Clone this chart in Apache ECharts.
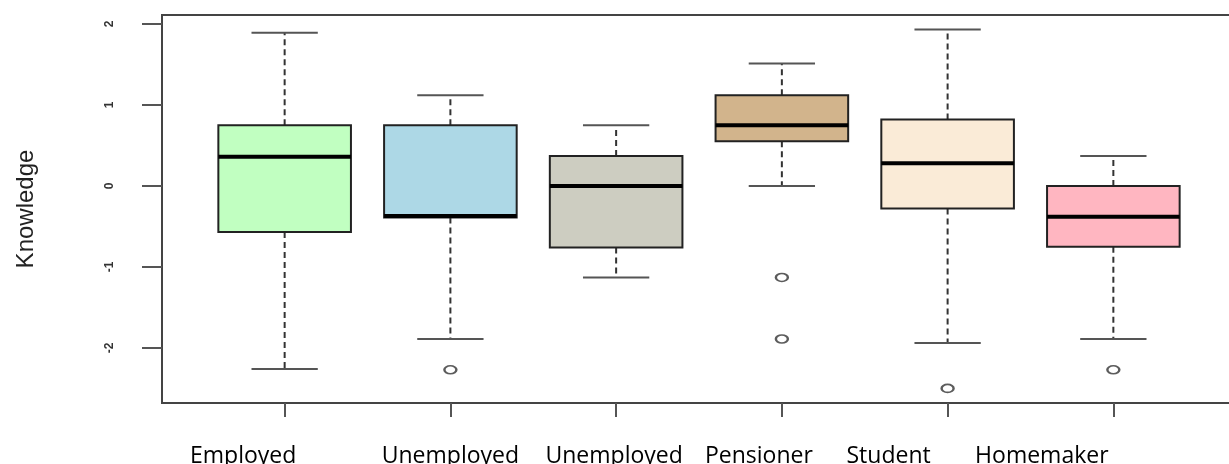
<!DOCTYPE html>
<html>
<head>
<meta charset="utf-8">
<script src="https://cdn.jsdelivr.net/npm/echarts@6/dist/echarts.min.js"></script>
<style>
  html, body { margin: 0; padding: 0; background: #fff; }
  #chart { width: 1229px; height: 464px; }
</style>
</head>
<body>
<div id="chart"></div>
<script>
// Knowledge score by employment status
const categories = ['Employed', 'Unemployed', 'Unemployed', 'Pensioner', 'Student', 'Homemaker'];
const whiskerLow  = [-2.26, -1.89, -1.13, 0.00, -1.94, -1.89];
const quartile1   = [-0.57, -0.39, -0.76, 0.55, -0.28, -0.75];
const medians     = [ 0.36, -0.37,  0.00, 0.75,  0.28, -0.38];
const quartile3   = [ 0.75,  0.75,  0.37, 1.12,  0.82,  0.00];
const whiskerHigh = [ 1.89,  1.12,  0.75, 1.51,  1.93,  0.37];
const outliers    = [[], [-2.27], [], [-1.13, -1.89], [-2.50], [-2.27]];
const yTickValues = [-2, -1, 0, 1, 2];

// styling
const boxColors = ['#C1FFC1', '#ADD8E6', '#CDCDC1', '#D2B48C', '#FAEBD7', '#FFB6C1'];
const labelShift = [-41.5, 0, -2, -23, -59, -71.5];   // horizontal offset of each category caption

const positions = categories.map((_, i) => i + 1);
const boxData = positions.map((p, i) => [p, whiskerLow[i], quartile1[i], medians[i], quartile3[i], whiskerHigh[i]]);
const outlierData = [];
outliers.forEach((list, i) => list.forEach(v => outlierData.push([positions[i], v])));

const rich = {};
labelShift.forEach((s, i) => {
  rich['c' + i] = {
    fontFamily: 'Open Sans',
    fontSize: 23,
    color: '#000',
    padding: [0, Math.max(0, -2 * s), 0, Math.max(0, 2 * s)]
  };
});

function renderBox(params, api) {
  const x = api.value(0);
  const lo = api.coord([x, api.value(1)]);
  const b1 = api.coord([x, api.value(2)]);
  const md = api.coord([x, api.value(3)]);
  const b3 = api.coord([x, api.value(4)]);
  const hi = api.coord([x, api.value(5)]);
  const boxW = api.size([0.8, 0])[0];
  const capW = boxW / 2;
  const cx = lo[0];
  const whiskerStyle = { stroke: '#333', lineWidth: 2, lineDash: [6, 4] };
  const capStyle = { stroke: '#555', lineWidth: 2 };
  return {
    type: 'group',
    children: [
      { type: 'line', shape: { x1: cx, y1: b3[1], x2: cx, y2: hi[1] }, style: whiskerStyle },
      { type: 'line', shape: { x1: cx, y1: b1[1], x2: cx, y2: lo[1] }, style: whiskerStyle },
      { type: 'line', shape: { x1: cx - capW / 2, y1: hi[1], x2: cx + capW / 2, y2: hi[1] }, style: capStyle },
      { type: 'line', shape: { x1: cx - capW / 2, y1: lo[1], x2: cx + capW / 2, y2: lo[1] }, style: capStyle },
      {
        type: 'rect',
        shape: { x: cx - boxW / 2, y: b3[1], width: boxW, height: b1[1] - b3[1] },
        style: { fill: boxColors[params.dataIndex], stroke: '#222', lineWidth: 2 }
      },
      { type: 'line', shape: { x1: cx - boxW / 2, y1: md[1], x2: cx + boxW / 2, y2: md[1] }, style: { stroke: '#000', lineWidth: 4 } }
    ]
  };
}

const chart = echarts.init(document.getElementById('chart'), null, { renderer: 'canvas' });
chart.setOption({
  animation: false,
  backgroundColor: '#fff',
  grid: {
    left: 162, top: 15, width: 1074, height: 388,
    outerBoundsMode: 'none',
    containLabel: false,
    show: true, borderColor: '#444', borderWidth: 2, backgroundColor: 'transparent'
  },
  xAxis: {
    type: 'value',
    min: 0.26,
    max: 6.74,
    axisLine: { show: false, onZero: false },
    splitLine: { show: false },
    axisTick: { customValues: positions, length: 14, lineStyle: { color: '#555', width: 2 } },
    axisLabel: {
      customValues: positions,
      margin: 42,
      formatter: v => {
        const i = Math.round(v) - 1;
        return '{c' + i + '|' + categories[i] + '}';
      },
      rich: rich
    }
  },
  yAxis: {
    type: 'value',
    min: -2.68,
    max: 2.11,
    name: 'Knowledge',
    nameLocation: 'middle',
    nameGap: 124,
    nameTextStyle: { fontFamily: 'Liberation Sans', fontSize: 24, color: '#222' },
    axisLine: { show: false, onZero: false },
    splitLine: { show: false },
    axisTick: { customValues: yTickValues, length: 20, lineStyle: { color: '#555', width: 2 } },
    axisLabel: {
      customValues: yTickValues,
      rotate: 90,
      margin: 46,
      fontFamily: 'Liberation Sans',
      fontSize: 12,
      fontWeight: 'bold',
      color: '#333'
    }
  },
  series: [
    {
      type: 'custom',
      renderItem: renderBox,
      encode: { x: 0, y: [1, 2, 3, 4, 5] },
      data: boxData,
      z: 2
    },
    {
      type: 'scatter',
      data: outlierData,
      symbol: 'circle',
      symbolSize: [12, 8],
      itemStyle: { color: '#fff', borderColor: '#333', borderWidth: 2 },
      z: 3
    }
  ]
});
</script>
</body>
</html>
